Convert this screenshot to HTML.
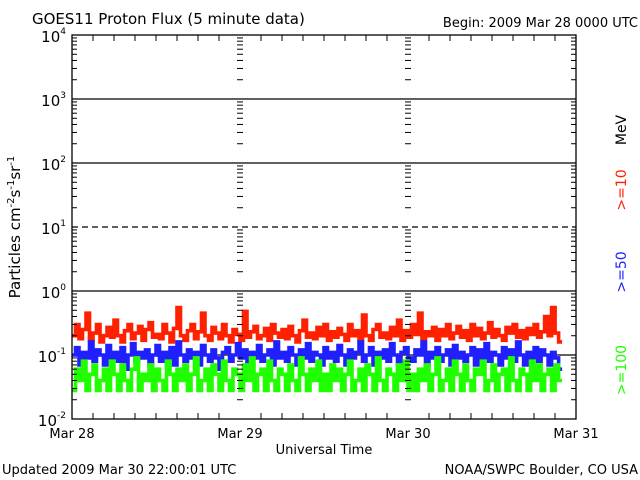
<!DOCTYPE html>
<html><head><meta charset="utf-8"><style>
html,body{margin:0;padding:0;background:#fff;}
svg{display:block;font-family:"DejaVu Sans","Liberation Sans",sans-serif;}
</style></head><body>
<svg id="chart" width="640" height="480" viewBox="0 0 640 480" xmlns="http://www.w3.org/2000/svg">
<rect width="640" height="480" fill="#fff"/>
<text x="32" y="24" font-size="15">GOES11 Proton Flux (5 minute data)</text>
<text x="638" y="27" font-size="13" text-anchor="end">Begin: 2009 Mar 28 0000 UTC</text>
<text x="2" y="474" font-size="13">Updated 2009 Mar 30 22:00:01 UTC</text>
<text x="638" y="474" font-size="13" text-anchor="end">NOAA/SWPC Boulder, CO USA</text>
<text x="324" y="454" font-size="13" text-anchor="middle">Universal Time</text>
<text transform="translate(20,227) rotate(-90)" font-size="15" text-anchor="middle">Particles cm<tspan font-size="10" dy="-6">-2</tspan><tspan dy="6">s</tspan><tspan font-size="10" dy="-6">-1</tspan><tspan dy="6">sr</tspan><tspan font-size="10" dy="-6">-1</tspan></text>
<text transform="translate(626,130) rotate(-90)" font-size="14" text-anchor="middle">MeV</text>
<text transform="translate(626,190) rotate(-90)" font-size="14" text-anchor="middle" fill="#ff2000">&gt;=10</text>
<text transform="translate(626,272) rotate(-90)" font-size="14" text-anchor="middle" fill="#2020ff">&gt;=50</text>
<text transform="translate(626,370) rotate(-90)" font-size="14" text-anchor="middle" fill="#20ff00">&gt;=100</text>
<g id="grid"></g><g id="series"></g><g id="axes"></g>
</svg>
<script>
const dayLabels=["Mar 28","Mar 29","Mar 30","Mar 31"];
const decades=[-2,-1,0,1,2,3,4];
const red=[0.2,0.3,0.18,0.25,0.45,0.17,0.22,0.3,0.16,0.2,0.27,0.19,0.35,0.2,0.16,0.24,0.3,0.18,0.22,0.28,0.17,0.25,0.32,0.19,0.21,0.18,0.3,0.22,0.16,0.26,0.55,0.2,0.17,0.24,0.3,0.18,0.23,0.45,0.2,0.17,0.27,0.22,0.18,0.3,0.2,0.16,0.25,0.21,0.17,0.48,0.19,0.23,0.28,0.18,0.2,0.26,0.17,0.3,0.22,0.19,0.25,0.18,0.28,0.2,0.16,0.24,0.35,0.19,0.22,0.18,0.27,0.2,0.3,0.17,0.23,0.19,0.26,0.21,0.17,0.3,0.2,0.24,0.18,0.42,0.2,0.17,0.25,0.3,0.19,0.22,0.18,0.27,0.2,0.35,0.17,0.24,0.19,0.3,0.21,0.45,0.18,0.23,0.2,0.27,0.17,0.25,0.2,0.3,0.18,0.22,0.28,0.19,0.24,0.17,0.3,0.2,0.26,0.18,0.22,0.32,0.19,0.25,0.2,0.17,0.27,0.22,0.3,0.19,0.24,0.18,0.26,0.21,0.3,0.19,0.23,0.4,0.2,0.55,0.22,0.16];
const blue=[0.1,0.13,0.07,0.11,0.09,0.16,0.08,0.12,0.1,0.07,0.14,0.09,0.11,0.08,0.13,0.06,0.1,0.15,0.08,0.11,0.09,0.12,0.07,0.1,0.14,0.08,0.11,0.09,0.13,0.07,0.16,0.1,0.08,0.12,0.09,0.11,0.07,0.14,0.1,0.08,0.12,0.09,0.06,0.11,0.13,0.08,0.1,0.15,0.09,0.12,0.07,0.11,0.09,0.14,0.08,0.1,0.12,0.07,0.16,0.09,0.11,0.08,0.13,0.1,0.07,0.12,0.09,0.15,0.08,0.11,0.1,0.07,0.13,0.09,0.11,0.08,0.14,0.1,0.07,0.12,0.09,0.11,0.16,0.08,0.1,0.13,0.07,0.11,0.09,0.12,0.08,0.15,0.1,0.07,0.11,0.13,0.09,0.08,0.12,0.1,0.16,0.07,0.11,0.09,0.13,0.08,0.1,0.12,0.07,0.14,0.09,0.11,0.08,0.1,0.13,0.07,0.12,0.09,0.15,0.08,0.11,0.1,0.07,0.13,0.09,0.12,0.08,0.16,0.1,0.07,0.11,0.09,0.13,0.08,0.12,0.1,0.07,0.11,0.09,0.06];
const green=[0.028,0.06,0.04,0.08,0.028,0.05,0.07,0.028,0.04,0.06,0.028,0.08,0.05,0.028,0.07,0.04,0.028,0.06,0.09,0.028,0.05,0.04,0.07,0.028,0.06,0.04,0.028,0.08,0.05,0.028,0.06,0.04,0.07,0.028,0.05,0.09,0.028,0.04,0.06,0.028,0.07,0.05,0.028,0.08,0.04,0.028,0.06,0.05,0.028,0.07,0.04,0.09,0.028,0.05,0.06,0.028,0.08,0.04,0.028,0.06,0.05,0.028,0.07,0.04,0.028,0.09,0.05,0.028,0.06,0.04,0.08,0.028,0.05,0.028,0.07,0.04,0.06,0.028,0.05,0.08,0.028,0.04,0.06,0.028,0.07,0.05,0.028,0.09,0.04,0.028,0.06,0.05,0.028,0.07,0.04,0.08,0.028,0.05,0.028,0.06,0.04,0.07,0.028,0.05,0.09,0.028,0.04,0.06,0.028,0.08,0.05,0.028,0.07,0.04,0.028,0.06,0.05,0.08,0.028,0.04,0.07,0.028,0.05,0.06,0.028,0.09,0.04,0.028,0.06,0.05,0.028,0.08,0.04,0.07,0.028,0.05,0.06,0.028,0.07,0.04];
const dataDays=2.917;
const NS="http://www.w3.org/2000/svg";
const X0=72,X1=576,YT=35,YB=419;
function xDay(d){return X0+(X1-X0)*d/3;}
function yVal(v){return YB-(Math.log10(v)+2)*(YB-YT)/6;}
function mk(tag,attrs,parent){const e=document.createElementNS(NS,tag);for(const k in attrs)e.setAttribute(k,attrs[k]);parent.appendChild(e);return e;}
const grid=document.getElementById('grid'),axes=document.getElementById('axes'),ser=document.getElementById('series');
decades.forEach(p=>{
  if(p===-2||p===4)return;
  const y=yVal(Math.pow(10,p));
  const l=mk('line',{x1:X0,x2:X1,y1:y,y2:y,stroke:'#000','stroke-width':1.3},grid);
  if(p===1)l.setAttribute('stroke-dasharray','6,4');
  
  
});
decades.forEach(p=>{
  const y=yVal(Math.pow(10,p));
  const t=mk('text',{x:66,y:y+7,'font-size':15,'text-anchor':'end'},axes);
  
  
  t.textContent='10';
  const s=mk('tspan',{'font-size':9,dy:-8},t);s.textContent=String(p);
});
for(let p=-2;p<4;p++){
  for(let m=2;m<=9;m++){
    const y=yVal(m*Math.pow(10,p));
    mk('line',{x1:X0,x2:X0+5,y1:y,y2:y,stroke:'#000'},axes);
    mk('line',{x1:X1-5,x2:X1,y1:y,y2:y,stroke:'#000'},axes);
    [1,2].forEach(d=>{const x=xDay(d);mk('line',{x1:x-3,x2:x+3,y1:y,y2:y,stroke:'#000'},axes);});
  }
}
for(let h=3;h<72;h+=3){
  if(h%24===0)continue;
  const x=xDay(h/24);
  mk('line',{x1:x,x2:x,y1:YB,y2:YB-6,stroke:'#000'},axes);
  mk('line',{x1:x,x2:x,y1:YT,y2:YT+6,stroke:'#000'},axes);
}
dayLabels.forEach((lab,i)=>{
  const t=mk('text',{x:xDay(i),y:438,'font-size':13,'text-anchor':'middle'},axes);
  
  
  t.textContent=lab;
});
const frame=mk('rect',{x:X0,y:YT,width:X1-X0,height:YB-YT,fill:'none',stroke:'#000','stroke-width':1.3},axes);


function drawSeries(arr,color,name){
  const n=arr.length;let pts=[];
  arr.forEach((v,i)=>{
    const xa=xDay(dataDays*i/n),xb=xDay(dataDays*(i+1)/n),y=yVal(v).toFixed(1);
    pts.push(xa.toFixed(1)+','+y);pts.push(xb.toFixed(1)+','+y);
  });
  const pl=mk('polyline',{points:pts.join(' '),fill:'none',stroke:color,'stroke-width':3.6,'stroke-linejoin':'miter'},ser);
  
  
}
drawSeries(red,'#ff2000','series-ge10');
drawSeries(blue,'#2020ff','series-ge50');
drawSeries(green,'#20ff00','series-ge100');
</script>
</body></html>
